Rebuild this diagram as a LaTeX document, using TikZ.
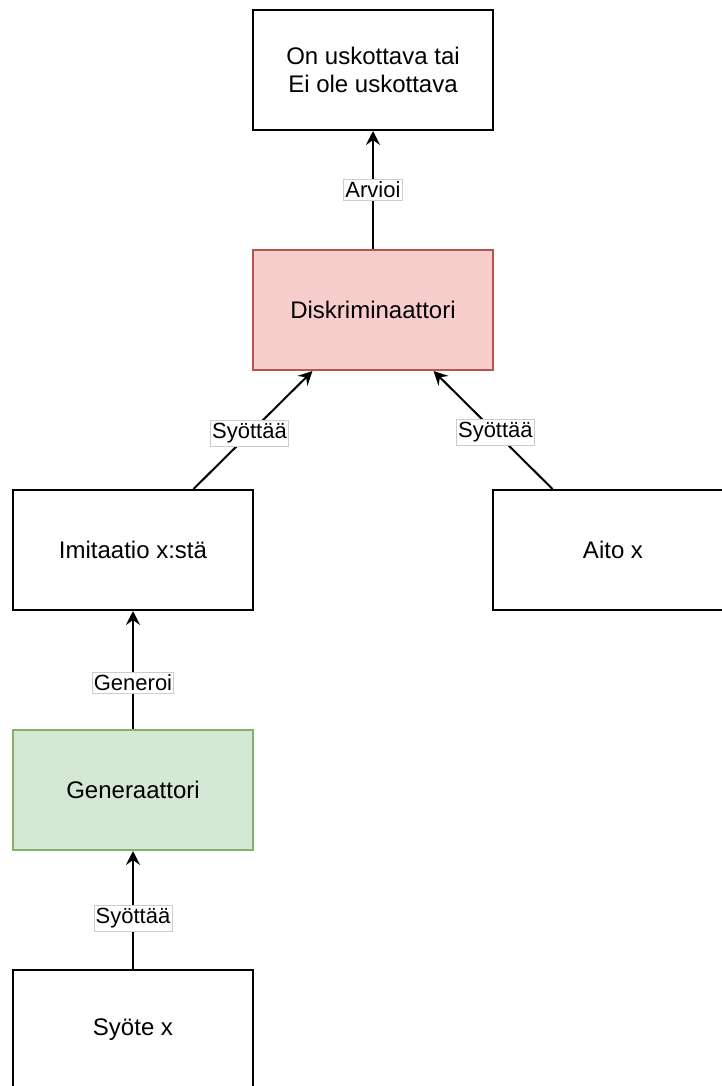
\documentclass[tikz,border=0pt]{standalone}
\usepackage{fontspec}
\setmainfont{Liberation Sans}
\usetikzlibrary{arrows.meta,calc}
\definecolor{discfill}{HTML}{F8CECC}
\definecolor{discline}{HTML}{B85450}
\definecolor{genfill}{HTML}{D5E8D4}
\definecolor{genline}{HTML}{82B366}
\begin{document}
\begin{tikzpicture}[x=0.5pt,y=-0.5pt,
    box/.style={draw, line width=1pt, minimum width=120pt, minimum height=60pt,
      align=center, inner sep=0pt, font=\fontsize{12}{14}\selectfont},
    lbl/.style={fill=white, draw=black!20, line width=0.4pt, inner xsep=0.8pt,
      inner ysep=1.4pt, font=\fontsize{11}{13}\selectfont},
    feed/.style={-{Stealth[length=7pt,width=7pt,inset=2.5pt]}, line width=1pt}]
    % fix the margins
    \useasboundingbox (0,0) rectangle (722,1086);
    % draw the boxes
    \node[box] (result) at (373,70) {On uskottava tai\\Ei ole uskottava};
    \node[box, fill=discfill, draw=discline] (disc) at (373,310) {Diskriminaattori};
    \node[box] (fake) at (133,550) {Imitaatio x:stä};
    \node[box] (real) at (613,550) {Aito x};
    \node[box, fill=genfill, draw=genline] (gen) at (133,790) {Generaattori};
    \node[box] (input) at (133,1030) {Syöte x};
    % draw the edges
    \draw[feed] (disc.north) -- node[lbl, pos=0.5] {Arvioi} (result.south);
    \draw[feed] ($(fake.north west)!0.75!(fake.north east)$)
        -- node[lbl, pos=0.47] {Syöttää} ($(disc.south west)!0.25!(disc.south east)$);
    \draw[feed] ($(real.north west)!0.25!(real.north east)$)
        -- node[lbl, pos=0.48] {Syöttää} ($(disc.south west)!0.75!(disc.south east)$);
    \draw[feed] (gen.north) -- node[lbl, pos=0.39] {Generoi} (fake.south);
    \draw[feed] (input.north) -- node[lbl, pos=0.43] {Syöttää} (gen.south);
\end{tikzpicture}
\end{document}
